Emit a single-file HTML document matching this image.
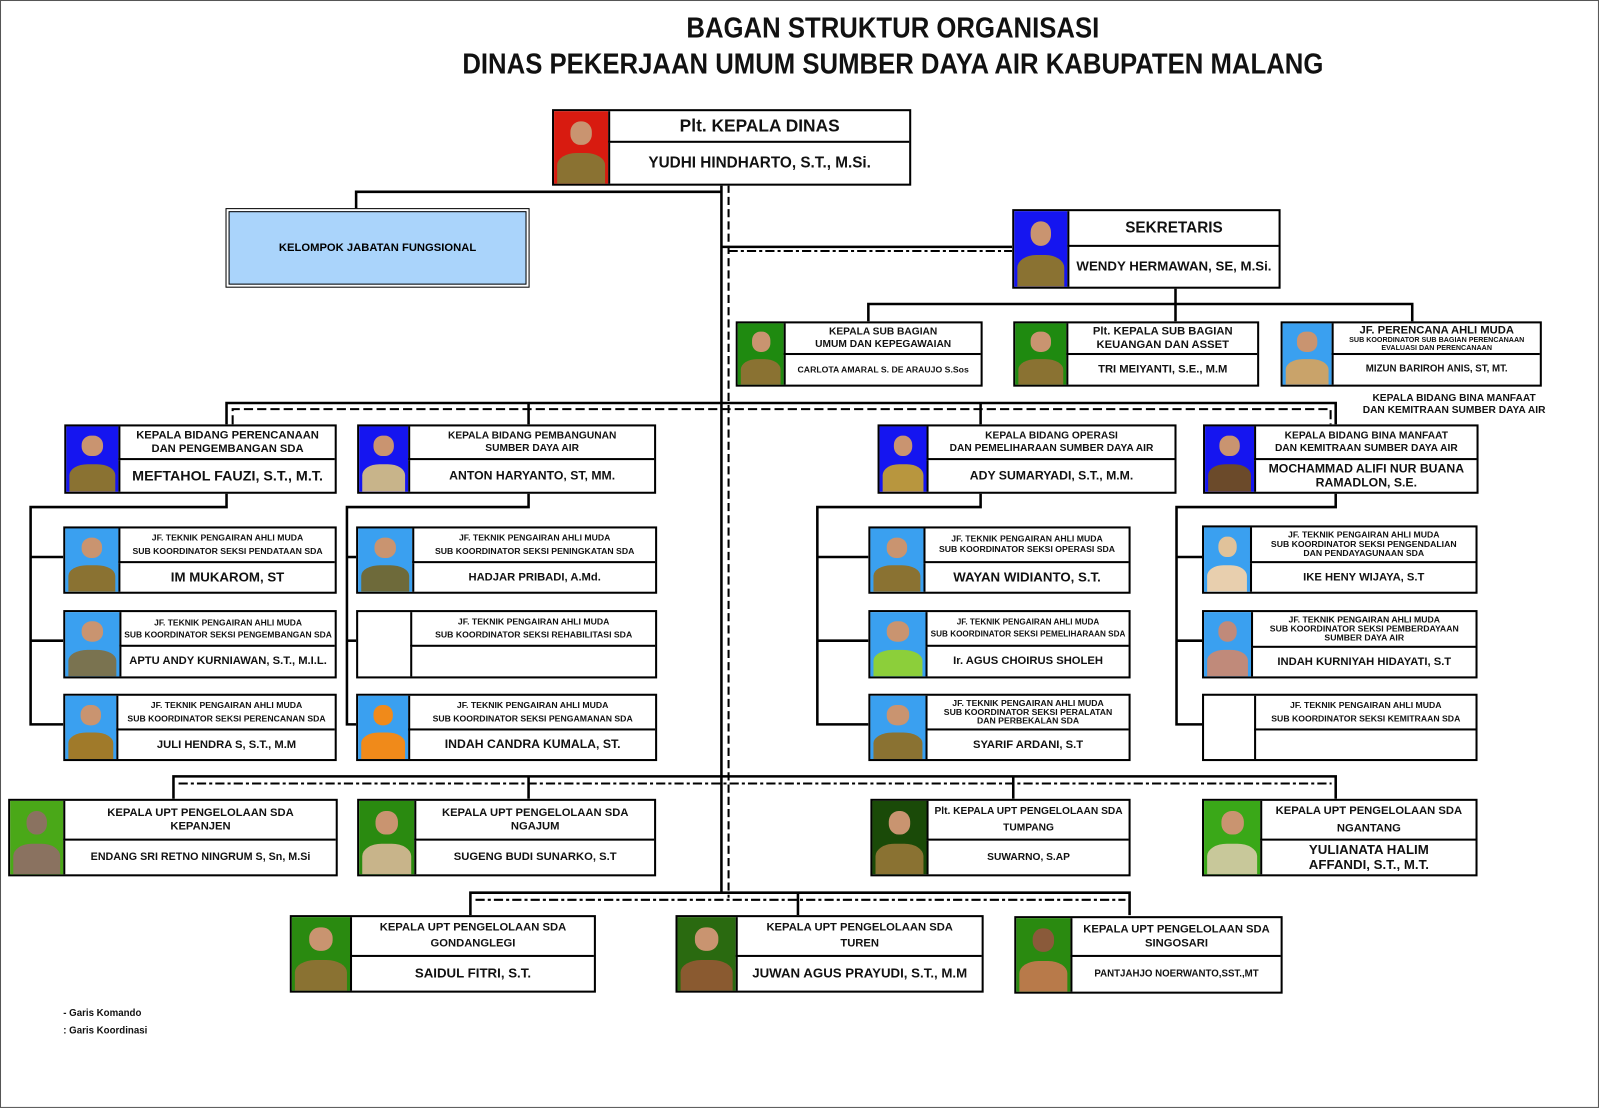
<!DOCTYPE html>
<html><head><meta charset="utf-8">
<style>
html,body{margin:0;padding:0;background:#fff;}
body{width:1600px;height:1109px;overflow:hidden;position:relative;}
#w{position:absolute;left:0;top:0;width:1568px;height:1087px;transform:scale(1.0204,1.0202);transform-origin:0 0;font-family:"Liberation Sans Narrow","Liberation Sans",Arial,sans-serif;}
.frame{position:absolute;left:0;top:0;width:1565px;height:1084px;border:1px solid #555;}
.t{position:absolute;font-weight:bold;text-align:center;color:#111;white-space:nowrap;}
.tt{transform:scaleX(0.9);transform-origin:50% 50%;}
.box{position:absolute;border:2px solid #000;box-sizing:border-box;background:#fff;}
.ph{position:absolute;left:0;top:0;bottom:0;width:var(--p);overflow:hidden;}
.hd,.nm{position:absolute;left:var(--p);right:0;border-left:2px solid #000;display:flex;align-items:center;justify-content:center;text-align:center;font-weight:bold;color:#111;line-height:1.15;}
.hd{top:0;height:var(--h);border-bottom:2px solid #000;font-size:10px;box-sizing:border-box;}
.nm{top:var(--h);bottom:0;font-size:12px;}
.hd small{font-size:7px;display:block;line-height:1.1;}
.hh{position:absolute;left:30%;top:14%;width:40%;height:32%;border-radius:45%;background:#c99470;}
.hb{position:absolute;left:6%;right:6%;bottom:0;height:42%;border-radius:40% 40% 0 0;background:#8a7232;}
.svg{position:absolute;left:0;top:0;}
</style></head><body><div id="w">
<div class="frame"></div>
<svg class="svg" width="1568" height="1087">
<g stroke="#000" stroke-width="2.5" fill="none">
<line x1="707" y1="181" x2="707" y2="876"/>
<polyline points="707,188 349,188 349,204"/>
<line x1="707" y1="242" x2="992" y2="242"/>
<line x1="1152" y1="282" x2="1152" y2="298"/>
<polyline points="851,315 851,298 1384,298 1384,315"/>
<line x1="1152" y1="298" x2="1152" y2="315"/>
<polyline points="222,416 222,395 1309,395 1309,416"/>
<line x1="518" y1="395" x2="518" y2="416"/>
<line x1="961" y1="395" x2="961" y2="416"/>
<polyline points="222,483 222,497 30,497 30,710 62,710"/>
<line x1="30" y1="546" x2="62" y2="546"/><line x1="30" y1="628" x2="62" y2="628"/>
<polyline points="518,483 518,497 340,497 340,710 350,710"/>
<line x1="340" y1="546" x2="350" y2="546"/><line x1="340" y1="628" x2="350" y2="628"/>
<polyline points="961,483 961,497 801,497 801,710 851,710"/>
<line x1="801" y1="546" x2="851" y2="546"/><line x1="801" y1="628" x2="851" y2="628"/>
<polyline points="1309,483 1309,497 1153,497 1153,710 1178,710"/>
<line x1="1153" y1="546" x2="1178" y2="546"/><line x1="1153" y1="628" x2="1178" y2="628"/>
<polyline points="170,783 170,761 1309,761 1309,783"/>
<line x1="518" y1="761" x2="518" y2="783"/><line x1="993" y1="761" x2="993" y2="783"/>
<polyline points="461,897 461,875 1107,875 1107,897"/>
<line x1="782" y1="875" x2="782" y2="897"/>
</g>
<g stroke="#000" stroke-width="2" fill="none">
<line x1="714" y1="181" x2="714" y2="880" stroke-dasharray="8 4"/>
<line x1="714" y1="246" x2="992" y2="246" stroke-dasharray="9 3 3 3"/>
<polyline points="228,416 228,401 1304,401 1304,416" stroke-dasharray="9 4"/>
<line x1="175" y1="768" x2="1305" y2="768" stroke-dasharray="9 3 3 3"/>
<line x1="466" y1="882" x2="1103" y2="882" stroke-dasharray="9 3 3 3"/>
</g>
</svg>

<div class="t tt" style="left:375px;top:12px;width:1000px;font-size:28px;">BAGAN STRUKTUR ORGANISASI</div>
<div class="t tt" style="left:375px;top:47px;width:1000px;font-size:28px;">DINAS PEKERJAAN UMUM SUMBER DAYA AIR KABUPATEN MALANG</div>

<div class="box" style="left:541px;top:107px;width:352px;height:75px;--p:53px;--h:31px;"><div class="ph" style="background:#d81b10"><div class="hb"></div><div class="hh"></div></div><div class="hd" style="font-size:17px">Plt. KEPALA DINAS</div><div class="nm" style="font-size:15px">YUDHI HINDHARTO, S.T., M.Si.</div></div>

<div style="position:absolute;left:221px;top:204px;width:298px;height:78px;border:1px solid #000;box-sizing:border-box;padding:2px;"><div style="width:100%;height:100%;border:1.5px solid #000;box-sizing:border-box;background:#aad4fb;display:flex;align-items:center;justify-content:center;font-weight:bold;font-size:11px;">KELOMPOK JABATAN FUNGSIONAL</div></div>

<div class="box" style="left:992px;top:205px;width:263px;height:78px;--p:52px;--h:35px;"><div class="ph" style="background:#1515f0"><div class="hb"></div><div class="hh"></div></div><div class="hd" style="font-size:15px">SEKRETARIS</div><div class="nm" style="font-size:13px">WENDY HERMAWAN, SE, M.Si.</div></div>

<div class="box" style="left:721px;top:315px;width:242px;height:64px;--p:45px;--h:31px;"><div class="ph" style="background:#1f8a10"><div class="hb"></div><div class="hh"></div></div><div class="hd">KEPALA SUB BAGIAN<br>UMUM DAN KEPEGAWAIAN</div><div class="nm" style="font-size:8.5px">CARLOTA AMARAL S. DE ARAUJO S.Sos</div></div>
<div class="box" style="left:993px;top:315px;width:241px;height:64px;--p:50px;--h:31px;"><div class="ph" style="background:#1f8a10"><div class="hb"></div><div class="hh"></div></div><div class="hd" style="font-size:11px">Plt. KEPALA SUB BAGIAN<br>KEUANGAN DAN ASSET</div><div class="nm" style="font-size:11px">TRI MEIYANTI, S.E., M.M</div></div>
<div class="box" style="left:1255px;top:315px;width:256px;height:64px;--p:48px;--h:31px;"><div class="ph" style="background:#3aa0f0"><div class="hb" style="background:#c9a36a"></div><div class="hh"></div></div><div class="hd" style="font-size:11px;display:block;padding-top:1px;line-height:1.1">JF. PERENCANA AHLI MUDA<small>SUB KOORDINATOR SUB BAGIAN PERENCANAAN<br>EVALUASI DAN PERENCANAAN</small></div><div class="nm" style="font-size:9.5px">MIZUN BARIROH ANIS, ST, MT.</div></div>
<div class="t" style="left:1330px;top:385px;width:190px;font-size:10px;line-height:1.2">KEPALA BIDANG BINA MANFAAT<br>DAN KEMITRAAN SUMBER DAYA AIR</div>

<div class="box" style="left:63px;top:416px;width:267px;height:68px;--p:51px;--h:33px;"><div class="ph" style="background:#1515f0"><div class="hb"></div><div class="hh"></div></div><div class="hd" style="font-size:11px">KEPALA BIDANG PERENCANAAN<br>DAN PENGEMBANGAN SDA</div><div class="nm" style="font-size:14px">MEFTAHOL FAUZI, S.T., M.T.</div></div>
<div class="box" style="left:350px;top:416px;width:293px;height:68px;--p:48px;--h:33px;"><div class="ph" style="background:#1515f0"><div class="hb" style="background:#c8b48a"></div><div class="hh"></div></div><div class="hd">KEPALA BIDANG PEMBANGUNAN<br>SUMBER DAYA AIR</div><div class="nm" style="font-size:12px">ANTON HARYANTO, ST, MM.</div></div>
<div class="box" style="left:860px;top:416px;width:293px;height:68px;--p:46px;--h:33px;"><div class="ph" style="background:#1515f0"><div class="hb" style="background:#b8963e"></div><div class="hh"></div></div><div class="hd">KEPALA BIDANG OPERASI<br>DAN PEMELIHARAAN SUMBER DAYA AIR</div><div class="nm" style="font-size:12px">ADY SUMARYADI, S.T., M.M.</div></div>
<div class="box" style="left:1179px;top:416px;width:270px;height:68px;--p:48px;--h:33px;"><div class="ph" style="background:#1515f0"><div class="hb" style="background:#6b4a2a"></div><div class="hh"></div></div><div class="hd">KEPALA BIDANG BINA MANFAAT<br>DAN KEMITRAAN SUMBER DAYA AIR</div><div class="nm" style="font-size:12px">MOCHAMMAD ALIFI NUR BUANA<br>RAMADLON, S.E.</div></div>

<div class="box" style="left:62px;top:516px;width:268px;height:66px;--p:52px;--h:34px;"><div class="ph" style="background:#3aa0f0"><div class="hb"></div><div class="hh"></div></div><div class="hd" style="font-size:8.5px;line-height:1.5">JF. TEKNIK PENGAIRAN AHLI MUDA<br>SUB KOORDINATOR SEKSI PENDATAAN SDA</div><div class="nm" style="font-size:13px">IM MUKAROM, ST</div></div>
<div class="box" style="left:62px;top:598px;width:268px;height:67px;--p:53px;--h:34px;"><div class="ph" style="background:#3aa0f0"><div class="hb" style="background:#7a7350"></div><div class="hh"></div></div><div class="hd" style="font-size:8.3px;line-height:1.5">JF. TEKNIK PENGAIRAN AHLI MUDA<br>SUB KOORDINATOR SEKSI PENGEMBANGAN SDA</div><div class="nm" style="font-size:11px">APTU ANDY KURNIAWAN, S.T., M.I.L.</div></div>
<div class="box" style="left:62px;top:680px;width:268px;height:66px;--p:50px;--h:34px;"><div class="ph" style="background:#3aa0f0"><div class="hb" style="background:#a07a2a"></div><div class="hh"></div></div><div class="hd" style="font-size:8.5px;line-height:1.5">JF. TEKNIK PENGAIRAN AHLI MUDA<br>SUB KOORDINATOR SEKSI PERENCANAN SDA</div><div class="nm" style="font-size:11px">JULI HENDRA S, S.T., M.M</div></div>

<div class="box" style="left:349px;top:516px;width:295px;height:66px;--p:53px;--h:34px;"><div class="ph" style="background:#3aa0f0"><div class="hb" style="background:#6e6a3a"></div><div class="hh"></div></div><div class="hd" style="font-size:8.5px;line-height:1.5">JF. TEKNIK PENGAIRAN AHLI MUDA<br>SUB KOORDINATOR SEKSI PENINGKATAN SDA</div><div class="nm" style="font-size:11px">HADJAR PRIBADI, A.Md.</div></div>
<div class="box" style="left:349px;top:598px;width:295px;height:67px;--p:51px;--h:34px;"><div class="ph"></div><div class="hd" style="font-size:8.5px;line-height:1.5">JF. TEKNIK PENGAIRAN AHLI MUDA<br>SUB KOORDINATOR SEKSI REHABILITASI SDA</div><div class="nm"></div></div>
<div class="box" style="left:349px;top:680px;width:295px;height:66px;--p:49px;--h:34px;"><div class="ph" style="background:#3aa0f0"><div class="hb" style="background:#f08a1a"></div><div class="hh" style="background:#f08a1a;border:5px solid #f08a1a;box-sizing:border-box;"></div></div><div class="hd" style="font-size:8.5px;line-height:1.5">JF. TEKNIK PENGAIRAN AHLI MUDA<br>SUB KOORDINATOR SEKSI PENGAMANAN SDA</div><div class="nm" style="font-size:12px">INDAH CANDRA KUMALA, ST.</div></div>

<div class="box" style="left:851px;top:516px;width:257px;height:66px;--p:52px;--h:34px;"><div class="ph" style="background:#3aa0f0"><div class="hb"></div><div class="hh"></div></div><div class="hd" style="font-size:8.5px">JF. TEKNIK PENGAIRAN AHLI MUDA<br>SUB KOORDINATOR SEKSI OPERASI SDA</div><div class="nm" style="font-size:13px">WAYAN WIDIANTO, S.T.</div></div>
<div class="box" style="left:851px;top:598px;width:257px;height:67px;--p:54px;--h:34px;"><div class="ph" style="background:#3aa0f0"><div class="hb" style="background:#8ccf3a"></div><div class="hh"></div></div><div class="hd" style="font-size:8px;line-height:1.5">JF. TEKNIK PENGAIRAN AHLI MUDA<br>SUB KOORDINATOR SEKSI PEMELIHARAAN SDA</div><div class="nm" style="font-size:11px">Ir. AGUS CHOIRUS SHOLEH</div></div>
<div class="box" style="left:851px;top:680px;width:257px;height:66px;--p:54px;--h:34px;"><div class="ph" style="background:#3aa0f0"><div class="hb"></div><div class="hh"></div></div><div class="hd" style="font-size:8.5px;line-height:1.05">JF. TEKNIK PENGAIRAN AHLI MUDA<br>SUB KOORDINATOR SEKSI PERALATAN<br>DAN PERBEKALAN SDA</div><div class="nm" style="font-size:11px">SYARIF ARDANI, S.T</div></div>

<div class="box" style="left:1178px;top:515px;width:270px;height:67px;--p:45px;--h:35px;"><div class="ph" style="background:#3aa0f0"><div class="hb" style="background:#e8cfae"></div><div class="hh" style="background:#e0c29a"></div></div><div class="hd" style="font-size:8.5px;line-height:1.05">JF. TEKNIK PENGAIRAN AHLI MUDA<br>SUB KOORDINATOR SEKSI PENGENDALIAN<br>DAN PENDAYAGUNAAN SDA</div><div class="nm" style="font-size:11px">IKE HENY WIJAYA, S.T</div></div>
<div class="box" style="left:1178px;top:598px;width:270px;height:67px;--p:46px;--h:35px;"><div class="ph" style="background:#3aa0f0"><div class="hb" style="background:#c08a7a"></div><div class="hh" style="background:#c08a7a"></div></div><div class="hd" style="font-size:8.5px;line-height:1.05">JF. TEKNIK PENGAIRAN AHLI MUDA<br>SUB KOORDINATOR SEKSI PEMBERDAYAAN<br>SUMBER DAYA AIR</div><div class="nm" style="font-size:11px">INDAH KURNIYAH HIDAYATI, S.T</div></div>
<div class="box" style="left:1178px;top:680px;width:270px;height:66px;--p:49px;--h:34px;"><div class="ph"></div><div class="hd" style="font-size:8.5px;line-height:1.5">JF. TEKNIK PENGAIRAN AHLI MUDA<br>SUB KOORDINATOR SEKSI KEMITRAAN SDA</div><div class="nm"></div></div>

<div class="box" style="left:8px;top:783px;width:323px;height:76px;--p:52px;--h:39px;"><div class="ph" style="background:#4aa818"><div class="hb" style="background:#8a7260"></div><div class="hh" style="background:#8a7260"></div></div><div class="hd" style="font-size:11px">KEPALA UPT PENGELOLAAN SDA<br>KEPANJEN</div><div class="nm" style="font-size:10.5px">ENDANG SRI RETNO NINGRUM S, Sn, M.Si</div></div>
<div class="box" style="left:350px;top:783px;width:293px;height:76px;--p:54px;--h:39px;"><div class="ph" style="background:#2a8a10"><div class="hb" style="background:#c8b48a"></div><div class="hh"></div></div><div class="hd" style="font-size:11px">KEPALA UPT PENGELOLAAN SDA<br>NGAJUM</div><div class="nm" style="font-size:11px">SUGENG BUDI SUNARKO, S.T</div></div>
<div class="box" style="left:853px;top:783px;width:255px;height:76px;--p:53px;--h:39px;"><div class="ph" style="background:#1a4a08"><div class="hb"></div><div class="hh"></div></div><div class="hd" style="font-size:10px;line-height:1.6">Plt. KEPALA UPT PENGELOLAAN SDA<br>TUMPANG</div><div class="nm" style="font-size:10px">SUWARNO, S.AP</div></div>
<div class="box" style="left:1178px;top:783px;width:270px;height:76px;--p:55px;--h:39px;"><div class="ph" style="background:#3aa818"><div class="hb" style="background:#c8c89a"></div><div class="hh"></div></div><div class="hd" style="font-size:11px;line-height:1.5">KEPALA UPT PENGELOLAAN SDA<br>NGANTANG</div><div class="nm" style="font-size:13px">YULIANATA HALIM<br>AFFANDI, S.T., M.T.</div></div>

<div class="box" style="left:284px;top:897px;width:300px;height:76px;--p:57px;--h:39px;"><div class="ph" style="background:#2a8a10"><div class="hb"></div><div class="hh"></div></div><div class="hd" style="font-size:11px;line-height:1.4">KEPALA UPT PENGELOLAAN SDA<br>GONDANGLEGI</div><div class="nm" style="font-size:13px">SAIDUL FITRI, S.T.</div></div>
<div class="box" style="left:662px;top:897px;width:302px;height:76px;--p:57px;--h:39px;"><div class="ph" style="background:#2a6a10"><div class="hb" style="background:#8a5a30"></div><div class="hh"></div></div><div class="hd" style="font-size:11px;line-height:1.4">KEPALA UPT PENGELOLAAN SDA<br>TUREN</div><div class="nm" style="font-size:13px">JUWAN AGUS PRAYUDI, S.T., M.M</div></div>
<div class="box" style="left:994px;top:898px;width:263px;height:76px;--p:53px;--h:38px;"><div class="ph" style="background:#2a8a10"><div class="hb" style="background:#b87a4a"></div><div class="hh" style="background:#8a5a3a"></div></div><div class="hd" style="font-size:11px;line-height:1.3">KEPALA UPT PENGELOLAAN SDA<br>SINGOSARI</div><div class="nm" style="font-size:9.5px">PANTJAHJO NOERWANTO,SST.,MT</div></div>

<div class="t" style="left:62px;top:988px;font-size:9.5px;text-align:left">- Garis Komando</div>
<div class="t" style="left:62px;top:1005px;font-size:9.5px;text-align:left">: Garis Koordinasi</div>
</div></body></html>
